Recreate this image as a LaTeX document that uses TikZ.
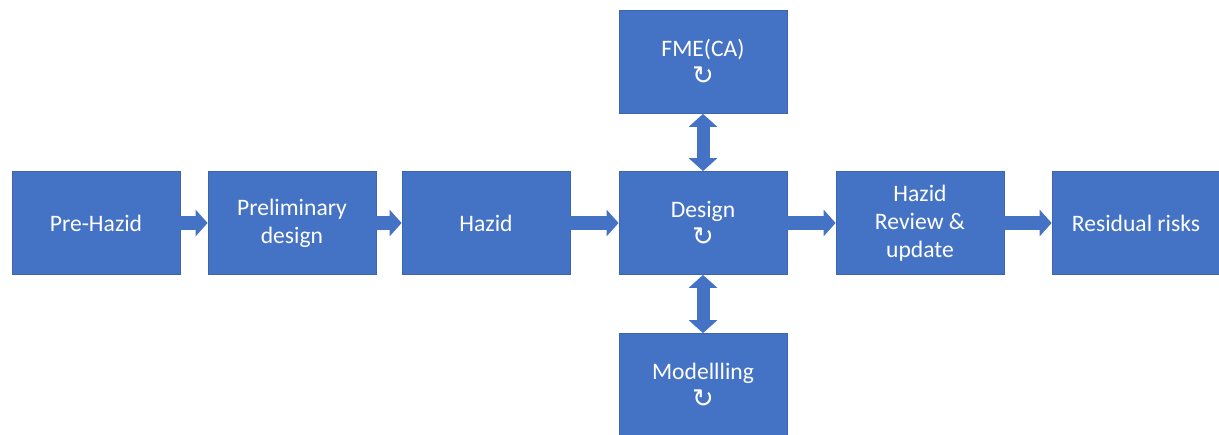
\documentclass[tikz,border=0pt]{standalone}
\usepackage{fontspec}
\setmainfont{Carlito}
\newfontfamily\symbolfont{DejaVu Sans}
\usepackage{tikz}
\usetikzlibrary{arrows.meta, positioning}
\definecolor{BoxColor}{RGB}{68,114,196}
\definecolor{EdgeColor}{RGB}{60,100,175}
\newcommand{\loopmark}{{\symbolfont\fontsize{13}{14}\selectfont ↻}}
\tikzstyle{stage} = [rectangle, fill=BoxColor, draw=EdgeColor, thin, text=white, align=center,
  minimum width=84pt, minimum height=51.5pt, inner sep=2pt, font=\fontsize{11.8}{14}\selectfont]
\tikzstyle{flow} = [BoxColor, line width=7pt, -{Triangle[length=6pt, width=13pt]}]
\tikzstyle{link} = [BoxColor, line width=6.5pt, {Triangle[length=6.5pt, width=14pt]}-{Triangle[length=6.5pt, width=14pt]}]

\begin{document}
\begin{tikzpicture}[x=0.5pt, y=-0.5pt]
                \useasboundingbox (0,0) rectangle (1219,434);

                % Main row of stages
                \node[stage] (prehazid) at (96,223) {Pre-Hazid};
                \node[stage] (prelim) at (292,223) {Preliminary\\design};
                \node[stage] (hazid) at (486,223) {Hazid};
                \node[stage] (design) at (703,223) {Design\\\loopmark};
                \node[stage] (review) at (920,223) {Hazid\\Review \&\\update};
                \node[stage] (residual) at (1136,223) {Residual risks};

                % Side loops on the design stage
                \node[stage] (fme) at (703,62) {FME(CA)\\\loopmark};
                \node[stage] (model) at (703,385) {Modellling\\\loopmark};

                % Flow arrows
                \draw[flow] (prehazid) -- (prelim);
                \draw[flow] (prelim) -- (hazid);
                \draw[flow] (hazid) -- (design);
                \draw[flow] (design) -- (review);
                \draw[flow] (review) -- (residual);

                % Two-way links
                \draw[link] (fme) -- (design);
                \draw[link] (design) -- (model);
            \end{tikzpicture}
\end{document}
